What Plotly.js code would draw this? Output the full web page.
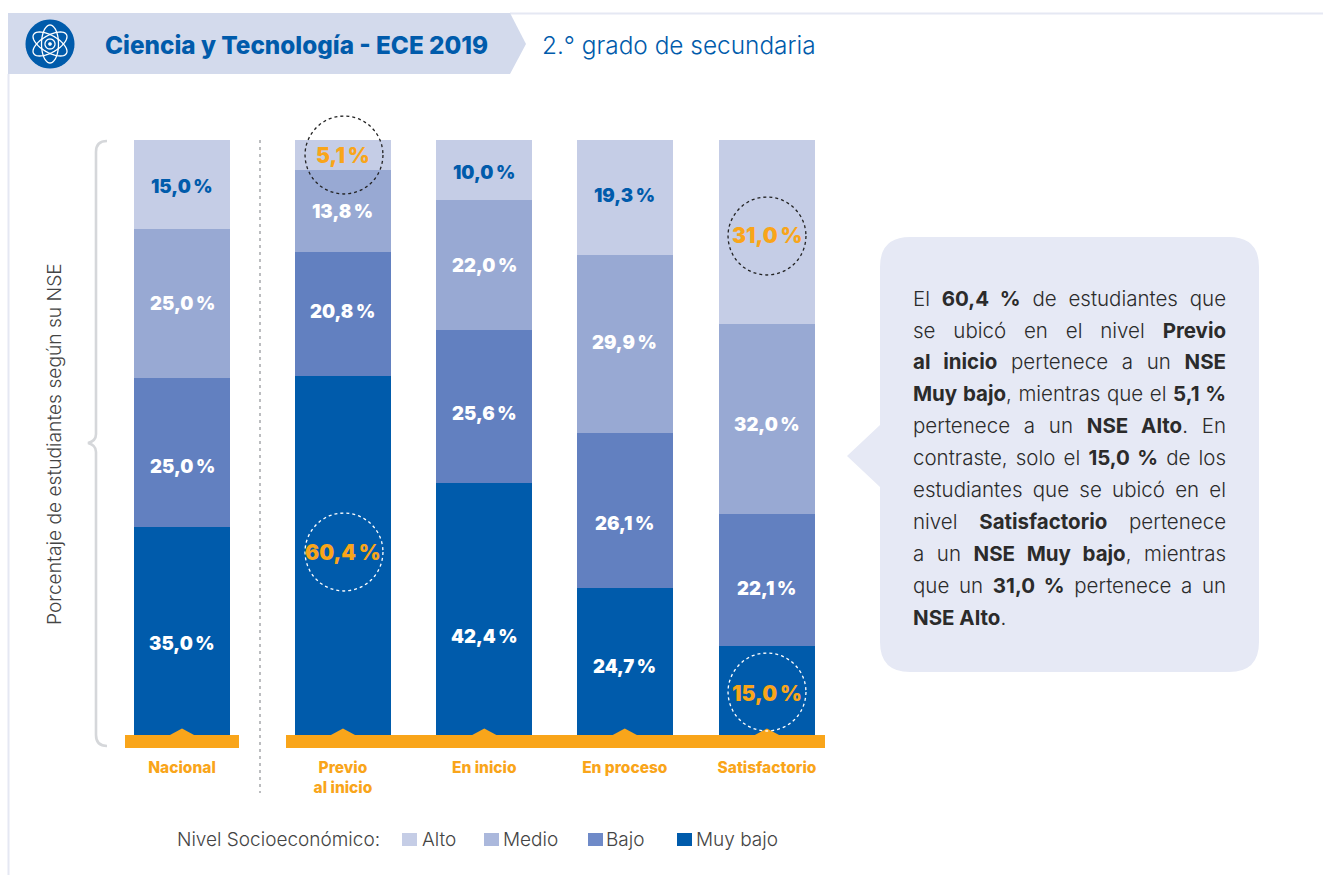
<!DOCTYPE html>
<html><head><meta charset="utf-8">
<script src="https://cdn.plot.ly/plotly-3.0.1.min.js"></script>
<style>html,body{margin:0;padding:0;background:#fff}#c{width:1323px;height:875px}</style>
</head><body><div id="c"></div>
<script>
const categories=['Nacional','Previo<br>al inicio','En inicio','En proceso','Satisfactorio'];
const alto=[15.0,5.1,10.0,19.3,31.0];
const medio=[25.0,13.8,22.0,29.9,32.0];
const bajo=[25.0,20.8,25.6,26.1,22.1];
const muyBajo=[35.0,60.4,42.4,24.7,15.0];
const barSlots=[0,1.139,2.139,3.133,4.139];
const altoLabelY=[186,155,172,195,235];
const medioLabelY=[303,211,265,342,424];
const bajoLabelY=[466,311,413,523,588];
const muyBajoLabelY=[643,552,636,666,693];
const colors={alto:'#C5CDE6',medio:'#98A9D3',bajo:'#6280C0',muyBajo:'#005BAB'};
const legendNames=['Alto','Medio','Bajo','Muy bajo'];
const legendColors=['#C5CDE6','#ABB8DC','#6F8AC8','#005BAB'];
const ORANGE='#F9A51A',BLUE='#005BAB';
const PL=100,PR=840,PT=140,PB=735,W=1323,H=875,UNIT=141.33;
const X0=182;
const px=x=>(x-PL)/(PR-PL), py=y=>(PB-y)/(PB-PT);
const slotPx=s=>X0+s*UNIT;
const fmt=v=>v.toFixed(1).replace('.',',')+'\u2009%';
const FONT='Inter, Lato, sans-serif';

function bar(name,vals,col){return {type:'bar',name,x:barSlots,y:vals,width:96/UNIT,marker:{color:col,line:{width:0}},textposition:'none',hoverinfo:'name+y'};}
const traces=[bar('Muy bajo',muyBajo,colors.muyBajo),bar('Bajo',bajo,colors.bajo),bar('Medio',medio,colors.medio),bar('Alto',alto,colors.alto)];

/* shapes */
const P=(x,y)=>px(x)+','+py(y);
function poly(pts,close=true){return 'M'+pts.map(p=>P(p[0],p[1])).join(' L')+(close?' Z':'');}
const S=[];
function add(path,fill,line,lw,dash,layer){S.push({type:'path',xref:'paper',yref:'paper',path,fillcolor:fill||'rgba(0,0,0,0)',line:{color:line||'rgba(0,0,0,0)',width:lw||0,dash:dash||'solid'},layer:layer||'above'});}
add(poly([[510,13.5],[1323,13.5]],false),null,'#E5E8F3',2);
add(poly([[8.5,74],[8.5,875]],false),null,'#E5E8F3',2);
add(poly([[8,13],[510,13],[526,44],[510,74],[8,74]]),'#D3DAEC');
function ell(cx,cy,rx,ry,rot){const p=[];for(let i=0;i<48;i++){const t=i/48*2*Math.PI,a=rx*Math.cos(t),b=ry*Math.sin(t);p.push([cx+a*Math.cos(rot)-b*Math.sin(rot),cy+a*Math.sin(rot)+b*Math.cos(rot)]);}return poly(p);}
add(ell(50,44,24.5,24.5,0),BLUE);
[Math.PI/2,Math.PI/6,-Math.PI/6].forEach(r=>add(ell(50,44,19,8.5,r),null,'#fff',1.3));
add(ell(50,44,5,5,0),null,'#fff',1.3);
add(ell(50,44,1.8,1.8,0),'#fff');
const braceCol='#D5D7DA';
add('M'+P(107,141)+' Q'+P(96,141)+' '+P(96,152)+' L'+P(96,434)+' Q'+P(96,441)+' '+P(88,443)+' Q'+P(96,445)+' '+P(96,452)+' L'+P(96,735)+' Q'+P(96,746)+' '+P(107,746),null,braceCol,2.6);
add(poly([[260,140],[260,793]],false),null,'#8F9296',1.2,'3px,4px');
add(poly([[125,735],[239,735],[239,748],[125,748]]),ORANGE);
add(poly([[286,735],[825,735],[825,748],[286,748]]),ORANGE);
barSlots.forEach(s=>{const c=slotPx(s);add(poly([[c-13,735.5],[c,728.5],[c+13,735.5]]),ORANGE);});
const cx0=880,cx1=1259,cy0=237,cy1=672,r=30;
add('M'+P(cx0+r,cy0)+' L'+P(cx1-r,cy0)+' Q'+P(cx1,cy0)+' '+P(cx1,cy0+r)+' L'+P(cx1,cy1-r)+' Q'+P(cx1,cy1)+' '+P(cx1-r,cy1)+' L'+P(cx0+r,cy1)+' Q'+P(cx0,cy1)+' '+P(cx0,cy1-r)+' L'+P(cx0,487)+' L'+P(847,456)+' L'+P(cx0,425)+' L'+P(cx0,cy0+r)+' Q'+P(cx0,cy0)+' '+P(cx0+r,cy0)+' Z','#E6E9F5');
[[344,155,'#222'],[344,552,'#fff'],[767,236,'#222'],[767,692,'#fff']].forEach(c=>add(ell(c[0],c[1],39,39,0),null,c[2],1.3,'3px,3px'));

/* annotations */
const A=[];
function txt(x,y,text,size,color,weight,anchor){A.push({xref:'paper',yref:'paper',x:px(x),y:py(y),text,showarrow:false,xanchor:anchor||'center',yanchor:'middle',align:'left',font:{family:FONT,size,color,weight:weight||400}});}
const highlights={'alto-1':1,'alto-4':1,'muyBajo-1':1,'muyBajo-4':1};
[['alto',alto,altoLabelY],['medio',medio,medioLabelY],['bajo',bajo,bajoLabelY],['muyBajo',muyBajo,muyBajoLabelY]].forEach(([k,v,ly])=>{
  v.forEach((val,i)=>{
    const hi=highlights[k+'-'+i];
    const col=hi?ORANGE:(k==='alto'?BLUE:'#fff');
    A.push({xref:'x',yref:'y',x:barSlots[i],y:(PB-ly[i])/((PB-PT)/100),text:fmt(val),showarrow:false,xanchor:'center',yanchor:'middle',font:{family:FONT,size:hi?21:18.5,color:col,weight:900}});
  });
});
txt(103,45,'Ciencia y Tecnología - ECE 2019',24.3,BLUE,800,'left');
txt(540,45,'2.° grado de secundaria',24.4,BLUE,300,'left');
A.push({xref:'paper',yref:'paper',x:px(54),y:py(444),text:'Porcentaje de estudiantes según su NSE',textangle:-90,showarrow:false,xanchor:'center',yanchor:'middle',font:{family:FONT,size:19.2,color:'#444',weight:300}});

/* legend */
const legendSquareX=[402,484,588,677];
const legendTextX=[420,501,604,694];
txt(175,839,'Nivel Socioeconómico:',19,'#444',300,'left');
legendNames.forEach((n,i)=>{
  add(poly([[legendSquareX[i],833],[legendSquareX[i]+15,833],[legendSquareX[i]+15,846],[legendSquareX[i],846]]),legendColors[i]);
  txt(legendTextX[i],839,n,19,'#444',300,'left');
});

/* justified paragraph */
const paragraph=[
 'El <b>60,4 %</b> de estudiantes que',
 'se ubicó en el nivel <b>Previo</b>',
 '<b>al inicio</b> pertenece a un <b>NSE</b>',
 '<b>Muy bajo</b>, mientras que el <b>5,1 %</b>',
 'pertenece a un <b>NSE Alto</b>. En',
 'contraste, solo el <b>15,0 %</b> de los',
 'estudiantes que se ubicó en el',
 'nivel <b>Satisfactorio</b> pertenece',
 'a un <b>NSE Muy bajo</b>, mientras',
 'que un <b>31,0 %</b> pertenece a un',
 '<b>NSE Alto</b>.'];
const lineY=[298,330,361,393,425,457,489,521,553,585,617];
const ctx=document.createElement('canvas').getContext('2d');
const PSIZE=20.5, PWIDTH=313;
function measure(line){let w=0;line.split(/(<b>.*?<\/b>)/).forEach(seg=>{if(!seg)return;const b=seg.startsWith('<b>');ctx.font=(b?'700 ':'300 ')+PSIZE+'px Inter';w+=ctx.measureText(seg.replace(/<\/?b>/g,'')).width;});return w;}
paragraph.forEach((line,i)=>{
  const spaces=(line.replace(/<\/?b>/g,'').match(/ /g)||[]).length;
  const ws=i<paragraph.length-1?(PWIDTH-measure(line))/spaces:0;
  txt(911,lineY[i],'<span style="word-spacing:'+ws.toFixed(2)+'px">'+line+'</span>',PSIZE,'#2B2B2B',300,'left');
});

const layout={
 width:W,height:H,paper_bgcolor:'#fff',plot_bgcolor:'rgba(0,0,0,0)',barmode:'stack',showlegend:false,hovermode:false,
 margin:{l:PL,r:W-PR,t:PT,b:H-PB,pad:0},font:{family:FONT},
 xaxis:{range:[(PL-X0)/UNIT,(PR-X0)/UNIT],tickvals:barSlots,ticktext:categories,ticks:'',showgrid:false,zeroline:false,showline:false,fixedrange:true,tickangle:0,ticklabelstandoff:21,
   tickfont:{family:FONT,size:15.5,color:ORANGE,weight:800}},
 yaxis:{range:[0,100],showticklabels:false,ticks:'',showgrid:false,zeroline:false,showline:false,fixedrange:true,automargin:false},
 shapes:S,annotations:A
};
Plotly.newPlot('c',traces,layout,{displayModeBar:false,staticPlot:true});
</script></body></html>
